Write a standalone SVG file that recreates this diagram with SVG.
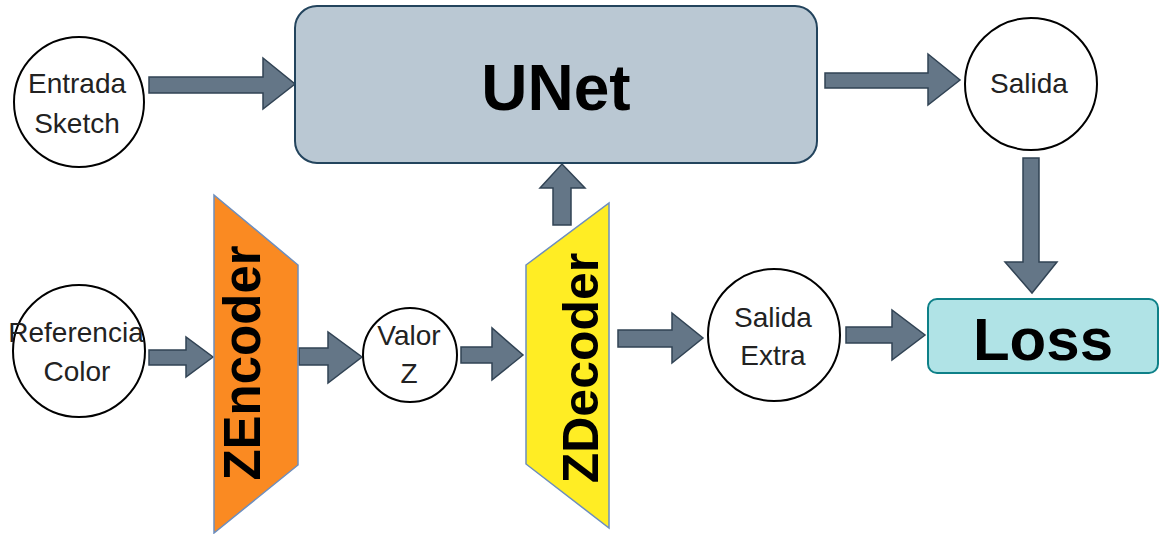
<svg xmlns="http://www.w3.org/2000/svg" width="1159" height="534" viewBox="0 0 1159 534">
<style>
.circ{fill:#fff;stroke:#000;stroke-width:2}
.lbl{font-family:"Liberation Sans",Arial,sans-serif;font-size:28px;fill:#222;text-anchor:middle}
.big{font-family:"Liberation Sans",Arial,sans-serif;font-weight:bold;fill:#000;text-anchor:middle}
.arr{fill:#647687;stroke:#314354;stroke-width:1.5;stroke-linejoin:miter}
</style>
<rect width="1159" height="534" fill="#fff"/>
<g id="connectors">
<path class="arr" d="M149,77 H263 V58 L295,84 L263,109 V93 H149 Z"/>
<path class="arr" d="M825,73 H928 V54 L960,80 L928,105 V88 H825 Z"/>
<path class="arr" d="M1023,158 H1039 V262 H1057 L1032,293 L1005,262 H1023 Z"/>
<path class="arr" d="M149,350 H186 V337 L213,357 L186,377 V365 H149 Z"/>
<path class="arr" d="M299,348 H328 V332 L362,357 L328,383 V365 H299 Z"/>
<path class="arr" d="M461,347 H492 V328 L523,355 L492,380 V363 H461 Z"/>
<path class="arr" d="M553,225 V188 H540 L562,164 L585,188 H571 V225 Z"/>
<path class="arr" d="M618,330 H672 V313 L703,338 L672,363 V347 H618 Z"/>
<path class="arr" d="M846,327 H892 V310 L925,335 L892,360 V343 H846 Z"/>
</g>
<g id="unet">
<rect x="295" y="6" width="522" height="157" rx="22" fill="#bac8d3" stroke="#23445d" stroke-width="2"/>
<text class="big" x="556" y="110" font-size="64">UNet</text>
</g>
<g id="entrada">
<circle class="circ" cx="79" cy="102" r="65"/>
<text class="lbl" x="77" y="93">Entrada</text>
<text class="lbl" x="77" y="133">Sketch</text>
</g>
<g id="salida">
<circle class="circ" cx="1031" cy="84" r="66"/>
<text class="lbl" x="1029" y="93">Salida</text>
</g>
<g id="referencia">
<circle class="circ" cx="79" cy="351" r="66"/>
<text class="lbl" x="76" y="342">Referencia</text>
<text class="lbl" x="77" y="381">Color</text>
</g>
<g id="zencoder">
<polygon points="214,195 298,265 298,465 214,533" fill="#fa8a22" stroke="#6c8ebf" stroke-width="1.5"/>
<text class="big" font-size="51" transform="translate(260,363) rotate(-90)">ZEncoder</text>
</g>
<g id="valorz">
<circle class="circ" cx="410" cy="355" r="47"/>
<text class="lbl" x="409" y="345">Valor</text>
<text class="lbl" x="409" y="383">Z</text>
</g>
<g id="zdecoder">
<polygon points="526,265 609,203 609,528 526,464" fill="#ffed24" stroke="#6c8ebf" stroke-width="1.5"/>
<text class="big" font-size="50" transform="translate(598,368) rotate(-90)">ZDecoder</text>
</g>
<g id="salidaextra">
<circle class="circ" cx="774" cy="335" r="66"/>
<text class="lbl" x="773" y="327">Salida</text>
<text class="lbl" x="773" y="365">Extra</text>
</g>
<g id="loss">
<rect x="928" y="299" width="230" height="74" rx="9" fill="#b0e3e6" stroke="#0e8088" stroke-width="2"/>
<text class="big" x="1043" y="360" font-size="60">Loss</text>
</g>
</svg>
